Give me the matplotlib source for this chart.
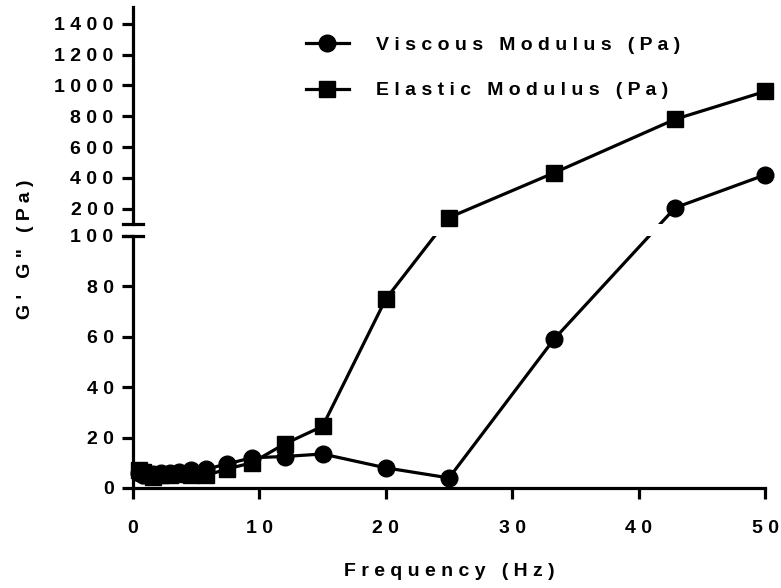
import numpy as np
import matplotlib
matplotlib.use("Agg")
import matplotlib.pyplot as plt
from matplotlib.lines import Line2D

plt.rcParams['font.family'] = ['Liberation Sans', 'DejaVu Sans']
plt.rcParams['font.weight'] = 'bold'

# frequency sweep (Hz) and moduli (Pa)
freq = [0.5, 0.8, 1.2, 1.6, 2.2, 2.9, 3.6, 4.6, 5.8, 7.4, 9.4, 12, 15, 20, 25, 33.3, 42.9, 50]
viscous = [6, 5, 5, 5.5, 6, 6, 6.5, 7, 7.5, 9.5, 12, 12.5, 13.5, 8, 4, 59, 206, 419]
elastic = [7, 6.5, 5, 4.5, 5, 5, 5.5, 5, 5, 7.5, 10, 17.5, 24.5, 75, 142, 432, 781, 961]

x_ticks = [0, 10, 20, 30, 40, 50]
low_ticks = [0, 20, 40, 60, 80, 100]
high_ticks = [200, 400, 600, 800, 1000, 1200, 1400]
BREAK = 100
TOP = 1510

W, H = 781, 588
FS = 14
# pixel heights of the two segments and the gap between them
LO_H, GAP, HI_H = 252, 12, 217


def spaced(s):
    # Prism-style letter spacing
    return ' '.join(str(s))


def to_u(v):
    # value -> pixel height above the x axis, across the broken axis
    v = np.asarray(v, dtype=float)
    return np.where(v <= BREAK, v / BREAK * LO_H,
                    LO_H + GAP + (v - BREAK) / (TOP - BREAK) * HI_H)


def style(ax):
    for side in ['top', 'right']:
        ax.spines[side].set_visible(False)
    for side in ['left', 'bottom']:
        ax.spines[side].set_linewidth(2.3)
    ax.tick_params(width=2.3, length=8, labelsize=FS)


fig = plt.figure(figsize=(W / 100, H / 100), dpi=100)
ax_lo = fig.add_axes([133 / W, (H - 488) / H, 632 / W, LO_H / H])
ax_hi = fig.add_axes([133 / W, (H - 488 + LO_H + GAP) / H, 632 / W, HI_H / H])

series = [(viscous, 'o', 'Viscous Modulus (Pa)'), (elastic, 's', 'Elastic Modulus (Pa)')]

for vals, mk, lab in series:
    f = np.array(freq)
    v = np.array(vals)
    u = to_u(v)
    # same straight segments in both panels, clipped at the break
    ax_lo.plot(f, u / LO_H * BREAK, color='black', lw=2.3, zorder=2)
    ax_hi.plot(f, BREAK + (u - LO_H - GAP) / HI_H * (TOP - BREAK), color='black', lw=2.3, zorder=2)
    lo = v <= BREAK
    ax_lo.plot(f[lo], v[lo], ls='none', marker=mk, ms=12, color='black', clip_on=False, zorder=3)
    ax_hi.plot(f[~lo], v[~lo], ls='none', marker=mk, ms=12, color='black', clip_on=False, zorder=3)

for ax, lo, hi in [(ax_lo, 0, BREAK), (ax_hi, BREAK, TOP)]:
    ax.set_xlim(0, 50)
    ax.set_ylim(lo, hi)
    style(ax)

ax_lo.set_xticks(x_ticks)
ax_lo.set_xticklabels([spaced(t) for t in x_ticks])
ax_lo.set_yticks(low_ticks)
ax_lo.set_yticklabels([spaced(t) for t in low_ticks])
ax_lo.tick_params(axis='x', pad=15)
ax_lo.tick_params(axis='y', pad=6)

ax_hi.set_yticks(high_ticks)
ax_hi.set_yticklabels([spaced(t) for t in high_ticks])
ax_hi.tick_params(axis='y', pad=6)
ax_hi.spines['bottom'].set_visible(False)
ax_hi.set_xticks([])

# axis break marks
for yp in [224, 236]:
    fig.add_artist(Line2D([123 / W, 143 / W], [(H - yp) / H] * 2, color='black',
                          lw=2.3, transform=fig.transFigure))

fig.text(449 / W, 1 - 571 / H, spaced('Frequency (Hz)'), ha='center', va='center',
         fontsize=FS, fontweight='bold')
fig.text(26 / W, 1 - 249 / H, spaced('G\' G" (Pa)'), ha='center', va='center',
         rotation=90, fontsize=FS, fontweight='bold')

handles = [Line2D([], [], color='black', lw=2.3, marker=mk, ms=12) for _, mk, _ in series]
ax_hi.legend(handles, [spaced(lab) for _, _, lab in series], frameon=False,
             loc='upper left', bbox_to_anchor=(306 / W, 1 - 36 / H),
             bbox_transform=fig.transFigure, fontsize=FS, borderpad=0,
             handlelength=2.2, handletextpad=1.4, labelspacing=1.45,
             borderaxespad=0)

fig.savefig('out.png', dpi=100)
